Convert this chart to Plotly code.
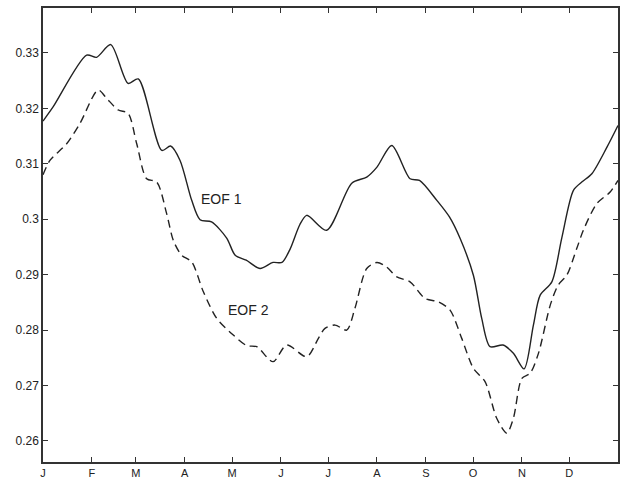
import plotly.graph_objects as go

# EOF 1 (solid) : day of year, value
eof1_day = [0, 6.5, 27.7, 34, 43, 54, 60.5, 75.4, 81, 87, 94.4, 99.7, 107, 116.6, 122, 129,
            137.8, 146, 151.7, 157, 163, 167.4, 180, 196, 205.5, 212, 221.4, 233, 239, 250,
            258, 264.8, 273.2, 278.5, 283.8, 292, 298.6, 305.4, 311.3, 315.6, 323, 329.3,
            336.7, 342, 348.4, 358, 365]
eof1_val = [0.3177, 0.3203, 0.3296, 0.3292, 0.3315, 0.3245, 0.3253, 0.3124, 0.3132, 0.3106,
            0.3034, 0.2999, 0.2995, 0.2966, 0.2935, 0.2926, 0.2911, 0.2922, 0.2922, 0.2947,
            0.2990, 0.3007, 0.2980, 0.3065, 0.3076, 0.3094, 0.3133, 0.3073, 0.3070, 0.3034,
            0.3004, 0.2965, 0.2899, 0.2821, 0.2770, 0.2773, 0.2758, 0.2730, 0.2809, 0.2863,
            0.2887, 0.2966, 0.3052, 0.3067, 0.3082, 0.3130, 0.3169]

# EOF 2 (dashed)
eof2_day = [0, 4.4, 15, 23.5, 35, 40.4, 47.8, 54, 59.5, 65.8, 72.2, 78.5, 82.7, 88, 94.4,
            101.8, 110.3, 120.8, 129.3, 135.7, 146, 154.7, 167.4, 174.8, 179, 185.4, 192.8,
            198, 205.5, 212, 218, 224.6, 233, 242.5, 251, 258.4, 265.8, 273.2, 280.6, 288,
            294.4, 298.6, 304, 309.2, 314.5, 322, 327, 332.5, 338.8, 343, 351.5, 360, 365]
eof2_val = [0.3080, 0.3106, 0.3136, 0.3173, 0.3233, 0.3218, 0.3197, 0.3191, 0.3136, 0.3073,
            0.3067, 0.3010, 0.2962, 0.2935, 0.2923, 0.2869, 0.2821, 0.2791, 0.2772, 0.2770,
            0.2743, 0.2773, 0.2752, 0.2785, 0.2803, 0.2809, 0.2800, 0.2839, 0.2911, 0.2922,
            0.2914, 0.2896, 0.2887, 0.2857, 0.2851, 0.2836, 0.2785, 0.2731, 0.2707, 0.2641,
            0.2614, 0.2641, 0.2713, 0.2722, 0.2758, 0.2845, 0.2881, 0.2899, 0.2947, 0.2980,
            0.3028, 0.3049, 0.3070]

month_start = [0, 31, 59, 90, 120, 151, 181, 212, 243, 273, 304, 334]
month_labels = ["J", "F", "M", "A", "M", "J", "J", "A", "S", "O", "N", "D"]
y_ticks = [0.26, 0.27, 0.28, 0.29, 0.30, 0.31, 0.32, 0.33]
y_labels = ["0.26", "0.27", "0.28", "0.29", "0.3", "0.31", "0.32", "0.33"]

line_col = "#222222"

fig = go.Figure()
fig.add_trace(go.Scatter(x=eof1_day, y=eof1_val, mode="lines",
                         line=dict(color=line_col, width=1.4, shape="spline", smoothing=0.8),
                         showlegend=False))
fig.add_trace(go.Scatter(x=eof2_day, y=eof2_val, mode="lines",
                         line=dict(color=line_col, width=1.4, shape="spline", smoothing=0.8,
                                   dash="8px,5px"),
                         showlegend=False))

fig.add_annotation(x=99, y=0.3036, text="EOF 1", showarrow=False, xanchor="left",
                   yanchor="middle", font=dict(size=14, color=line_col))
fig.add_annotation(x=116.2, y=0.2836, text="EOF 2", showarrow=False, xanchor="left",
                   yanchor="middle", font=dict(size=14, color=line_col))

axis_common = dict(showline=True, linecolor="#333333", linewidth=1.5, mirror="ticks",
                   ticks="inside", ticklen=5, tickcolor="#333333", showgrid=False,
                   zeroline=False, automargin=False)

fig.update_xaxes(range=[0, 365], tickvals=month_start, ticktext=month_labels,
                 ticklabelstandoff=0, tickfont=dict(size=11, color=line_col), **axis_common)
fig.update_yaxes(range=[0.2562, 0.3381], tickvals=y_ticks, ticktext=y_labels,
                 tickfont=dict(size=12, color=line_col), **axis_common)

fig.update_layout(width=621, height=478, margin=dict(l=43, r=3, t=8, b=16),
                  plot_bgcolor="white", paper_bgcolor="white",
                  font=dict(family="Liberation Sans, Arial, sans-serif", color=line_col))

fig.write_html("out.html", config={"displayModeBar": False},
               post_script="document.body.style.margin='0';document.body.style.overflow='hidden';")
